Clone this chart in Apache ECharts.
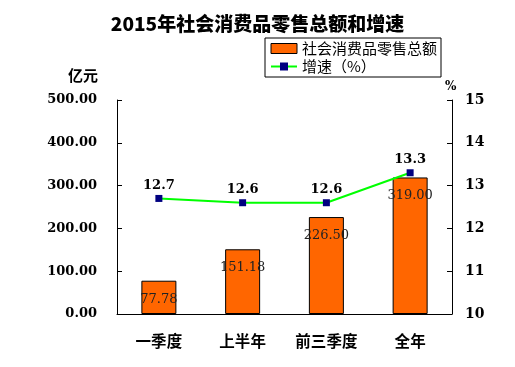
<!DOCTYPE html>
<html><head><meta charset="utf-8">
<script src="https://cdn.jsdelivr.net/npm/echarts@6/dist/echarts.min.js"></script>
<style>html,body{margin:0;padding:0;background:#fff}#c{width:515px;height:367px}</style>
</head><body><div id="c"></div>
<script>
const categories = ['一季度', '上半年', '前三季度', '全年'];
const salesValues = [77.78, 151.18, 226.50, 319.00];
const growthValues = [12.7, 12.6, 12.6, 13.3];
const leftTicks = { min: 0, max: 500, interval: 100 };
const rightTicks = { min: 10, max: 15, interval: 1 };
const seriesNames = ['社会消费品零售总额', '增速（%）'];

const serif = '"DejaVu Serif", "Noto Sans CJK SC", serif';
const cjk = '"Noto Sans CJK SC", sans-serif';
const chart = echarts.init(document.getElementById('c'));
chart.setOption({
  animation: false,
  backgroundColor: '#fff',
  title: {
    text: '2015年社会消费品零售总额和增速',
    left: 'center', top: 9,
    textStyle: { fontFamily: cjk, fontWeight: 900, fontSize: 19, color: '#000' }
  },
  legend: {
    orient: 'vertical', left: 265, top: 38,
    borderColor: '#000', borderWidth: 1, padding: [3, 4, 3, 5],
    itemWidth: 26, itemHeight: 10, itemGap: 3,
    textStyle: { fontFamily: cjk, fontSize: 15, color: '#000' },
    data: [
      { name: seriesNames[0], icon: 'rect', itemStyle: { color: '#ff6600', borderColor: '#000', borderWidth: 1 } },
      { name: seriesNames[1] }
    ]
  },
  graphic: [
    { type: 'text', left: 68, top: 68, style: { text: '亿元', font: 'bold 15px "Noto Sans CJK SC"', fill: '#000' } },
    { type: 'text', left: 445, top: 81, style: { text: '%', font: 'bold 12px "DejaVu Serif"', fill: '#000' } }
  ],
  grid: { left: 117, right: 63, top: 100, bottom: 53 },
  xAxis: {
    type: 'category', data: categories,
    axisLine: { lineStyle: { color: '#000', width: 1 } },
    axisTick: { inside: true, length: 5, lineStyle: { color: '#000' } },
    axisLabel: { margin: 19, fontFamily: cjk, fontWeight: 'bold', fontSize: 15.5, color: '#000' }
  },
  yAxis: [
    {
      type: 'value', min: leftTicks.min, max: leftTicks.max, interval: leftTicks.interval,
      splitLine: { show: false },
      axisLine: { show: true, lineStyle: { color: '#000' } },
      axisTick: { show: true, inside: true, length: 5, lineStyle: { color: '#000' } },
      axisLabel: { margin: 20, fontFamily: serif, fontWeight: 'bold', fontSize: 13, color: '#000',
        formatter: v => v.toFixed(2) }
    },
    {
      type: 'value', min: rightTicks.min, max: rightTicks.max, interval: rightTicks.interval,
      splitLine: { show: false },
      axisLine: { show: true, lineStyle: { color: '#000' } },
      axisTick: { show: true, inside: true, length: 5, lineStyle: { color: '#000' } },
      axisLabel: { margin: 13, fontFamily: serif, fontWeight: 'bold', fontSize: 14, color: '#000' }
    }
  ],
  series: [
    {
      name: seriesNames[0], type: 'bar', data: salesValues, barWidth: 35, yAxisIndex: 0,
      itemStyle: { color: '#ff6600', borderColor: '#000', borderWidth: 1 },
      label: { show: true, position: 'insideTop', distance: 12, fontFamily: serif, fontSize: 13, color: '#222',
        formatter: p => p.value.toFixed(2) },
      z: 2
    },
    {
      name: seriesNames[1], type: 'line', data: growthValues, yAxisIndex: 1,
      lineStyle: { color: '#00ff00', width: 2 },
      itemStyle: { color: '#000080' },
      symbol: 'rect', symbolSize: 7,
      label: { show: true, position: 'top', distance: 3, fontFamily: serif, fontWeight: 'bold', fontSize: 13, color: '#000',
        formatter: p => p.value.toFixed(1) },
      z: 3
    }
  ]
});
</script></body></html>
